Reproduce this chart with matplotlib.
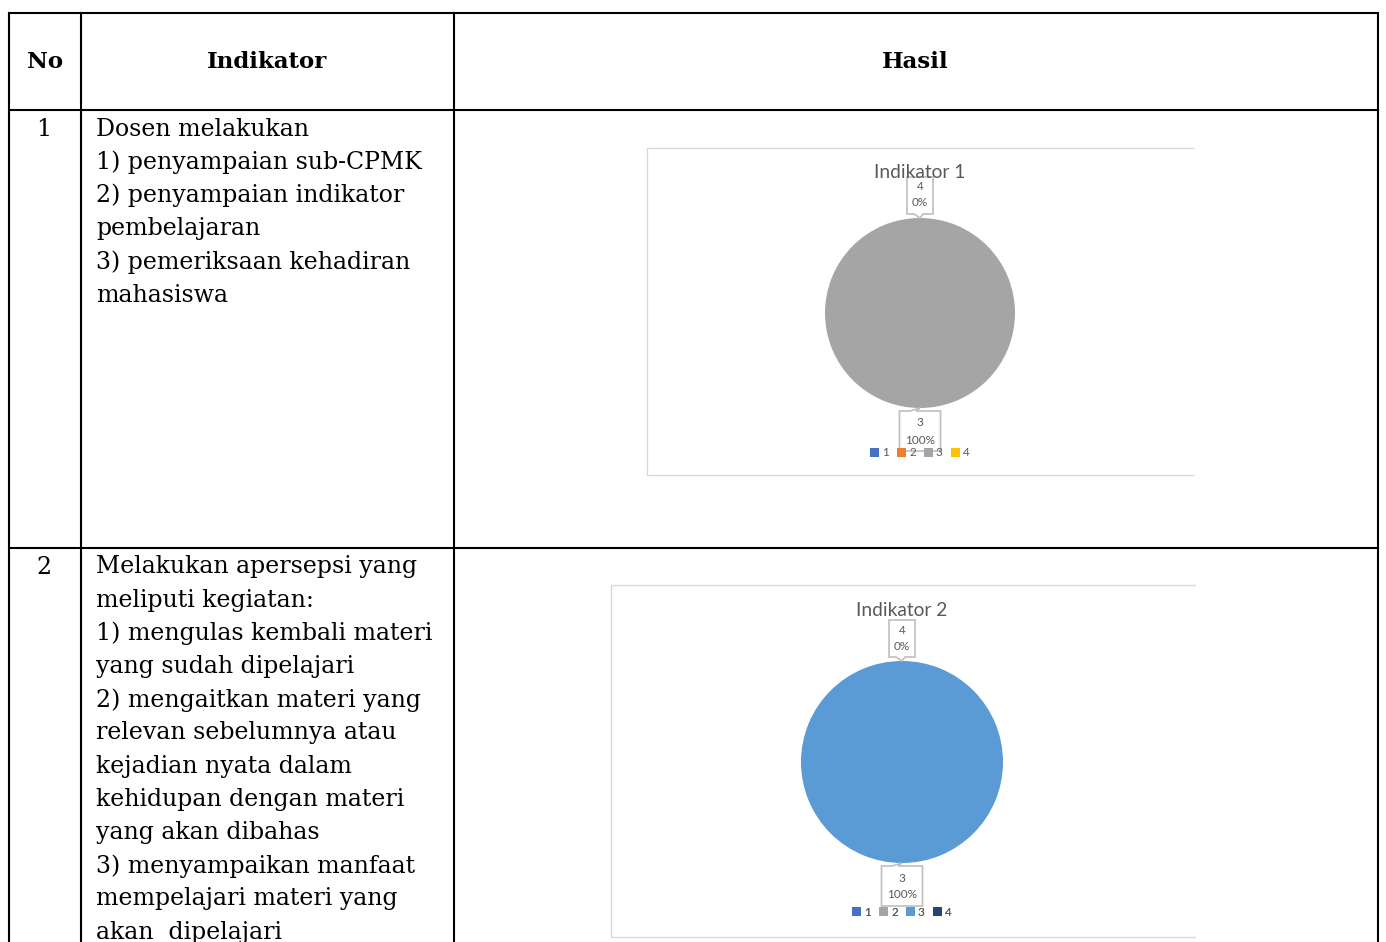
import matplotlib.pyplot as plt
from matplotlib.patches import Rectangle, Polygon
from matplotlib.lines import Line2D

W, H = 1386, 942

header = ["No", "Indikator", "Hasil"]
row_numbers = ["1", "2"]
row_texts = [
    ["Dosen melakukan", "1) penyampaian sub-CPMK", "2) penyampaian indikator",
     "pembelajaran", "3) pemeriksaan kehadiran", "mahasiswa"],
    ["Melakukan apersepsi yang", "meliputi kegiatan:", "1) mengulas kembali materi",
     "yang sudah dipelajari", "2) mengaitkan materi yang", "relevan sebelumnya atau",
     "kejadian nyata dalam", "kehidupan dengan materi", "yang akan dibahas",
     "3) menyampaikan manfaat", "mempelajari materi yang", "akan  dipelajari"],
]

categories = ["1", "2", "3", "4"]
titles = ["Indikator 1", "Indikator 2"]
values_1 = [0, 0, 1, 0]
values_2 = [0, 0, 1, 0]
colors_1 = ["#4472C4", "#ED7D31", "#A5A5A5", "#FFC000"]
colors_2 = ["#4472C4", "#A5A5A5", "#5B9BD5", "#264478"]

fig = plt.figure(figsize=(W / 100, H / 100), dpi=100)
base = fig.add_axes([0, 0, 1, 1], zorder=5)
base.set_xlim(0, W)
base.set_ylim(H, 0)
base.axis("off")
base.patch.set_alpha(0)

serif = "DejaVu Serif"
sans = "Lato"
fs = 17

# table grid
lw = 1.5
for x in [9, 81, 454, 1378]:
    base.add_line(Line2D([x, x], [13, H], color="black", lw=lw))
for y in [13, 110, 548]:
    base.add_line(Line2D([9, 1378], [y, y], color="black", lw=lw))

base.text(45, 62, header[0], ha="center", va="center", fontsize=16.5, fontweight="bold", family=serif)
base.text(267, 62, header[1], ha="center", va="center", fontsize=16.5, fontweight="bold", family=serif)
base.text(915, 62, header[2], ha="center", va="center", fontsize=16.5, fontweight="bold", family=serif)

row_tops = [129, 567]
for num, lines, y0 in zip(row_numbers, row_texts, row_tops):
    base.text(44, y0, num, ha="center", va="center", fontsize=fs, family=serif)
    for i, ln in enumerate(lines):
        base.text(96, y0 + i * 33.2, ln, ha="left", va="center", fontsize=fs, family=serif)

charts = [
    dict(frame=(647, 148, 546, 327), center=(920, 313), r=95, title_y=172,
         vals=values_1, cols=colors_1, title=titles[0], leg_y=453),
    dict(frame=(611, 585, 584, 352), center=(902, 762), r=101, title_y=611,
         vals=values_2, cols=colors_2, title=titles[1], leg_y=912),
]

txt_gray = "#595959"
box_gray = "#BFBFBF"
sfs = 8.5

for c in charts:
    fx, fy, fw, fh = c["frame"]
    # chart area border (right side is cut off in the source)
    base.add_line(Line2D([fx + fw, fx, fx, fx + fw], [fy, fy, fy + fh, fy + fh], color="#D9D9D9", lw=1))
    cx, cy = c["center"]
    r = c["r"]
    ax = fig.add_axes([(cx - r) / W, 1 - (cy + r) / H, 2 * r / W, 2 * r / H], zorder=1)
    ax.pie(c["vals"], colors=c["cols"], startangle=90, counterclock=False,
           wedgeprops=dict(linewidth=0))
    ax.set_xlim(-1, 1)
    ax.set_ylim(-1, 1)
    ax.set_aspect("auto")
    ax.axis("off")

    base.text(cx, c["title_y"], c["title"], ha="center", va="center",
              fontsize=13.8, color=txt_gray, family=sans)

    total = sum(c["vals"])
    pct = [v / total * 100 for v in c["vals"]]

    # callout for category 4 (top)
    bw, bh = 26, 37
    bb = cy - r - 4
    bt = bb - bh
    poly = [(cx - bw / 2, bt), (cx + bw / 2, bt), (cx + bw / 2, bb), (cx + 3, bb),
            (cx, cy - r), (cx - 6, bb), (cx - bw / 2, bb)]
    base.add_patch(Polygon(poly, closed=True, fc="white", ec=box_gray, lw=1.2))
    base.text(cx, bt + 10, categories[3], ha="center", va="center", fontsize=sfs, color=txt_gray, family=sans)
    base.text(cx, bt + 26, f"{pct[3]:.0f}%", ha="center", va="center", fontsize=sfs, color=txt_gray, family=sans)

    # callout for category 3 (bottom)
    bw, bh = 41, 40
    bt = cy + r + 3
    bb = bt + bh
    poly = [(cx - bw / 2, bt), (cx - 10, bt), (cx, cy + r), (cx - 4, bt), (cx + bw / 2, bt),
            (cx + bw / 2, bb), (cx - bw / 2, bb)]
    base.add_patch(Polygon(poly, closed=True, fc="white", ec=box_gray, lw=1.2))
    base.text(cx, bt + 12, categories[2], ha="center", va="center", fontsize=sfs, color=txt_gray, family=sans)
    base.text(cx, bt + 29, f"{pct[2]:.0f}%", ha="center", va="center", fontsize=sfs, color=txt_gray, family=sans)

    # legend
    handles = [Rectangle((0, 0), 1, 1, fc=col, ec="none") for col in c["cols"]]
    base.legend(handles, categories, loc="center", ncol=4, frameon=False,
                bbox_to_anchor=(cx / W, 1 - c["leg_y"] / H), bbox_transform=fig.transFigure,
                handlelength=0.75, handleheight=0.75, handletextpad=0.25,
                columnspacing=0.7, labelcolor=txt_gray, prop=dict(family=sans, size=sfs))
    base.add_artist(base.get_legend())

fig.savefig("out.png", dpi=100)
